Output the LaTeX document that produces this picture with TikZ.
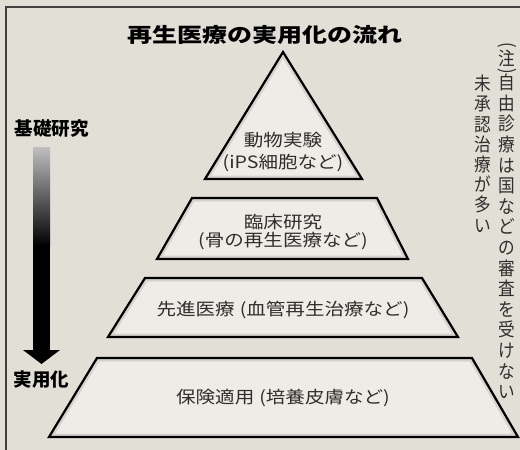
\documentclass[tikz,border=0pt]{standalone}
\usepackage{fontspec}
\setmainfont{Noto Sans CJK JP}
\newfontfamily\jplbl[FakeStretch=1.15]{Noto Sans CJK JP}
\newfontfamily\jptitle[FakeStretch=1.25]{Noto Sans CJK JP}
\newfontfamily\jpvert[FakeStretch=0.9]{Noto Sans CJK JP}
\definecolor{paper}{RGB}{226,223,215}
\definecolor{shapefill}{RGB}{238,236,230}
\definecolor{ink}{RGB}{48,46,44}
\tikzset{
  pyr/.style={draw=black, line width=2.2pt, line join=miter},
  lbl/.style={font=\jplbl\fontsize{17}{20}\selectfont, text=ink, inner sep=0pt},
  titlelbl/.style={font=\jptitle\bfseries\fontsize{20}{24}\selectfont, text=black, inner sep=0pt},
  sidelbl/.style={font=\bfseries\fontsize{18.5}{22}\selectfont, text=black, inner sep=0pt},
  vertlbl/.style={font=\jpvert\fontsize{18.5}{20.6}\selectfont, text=ink, inner sep=0pt, align=center},
  vertlbltwo/.style={vertlbl, font=\jpvert\fontsize{18.5}{20.2}\selectfont},
}
\newcommand\pyrshape[1]{%
  \fill[shapefill] #1;
  \begin{scope}
    \clip #1;
    \draw[line width=7pt, black, opacity=0.10] #1;
  \end{scope}
  \draw[pyr] #1;
}
\begin{document}
\begin{tikzpicture}[x=1pt, y=-1pt]
  \useasboundingbox (0,0) rectangle (520,450);
  \fill[paper] (0,0) rectangle (520,450);
  % frame
  \draw[line width=1.4pt, black!75] (520,7) -- (6,7) -- (6,450);

  % title
  \node[titlelbl] (title) at (265,35) {再生医療の実用化の流れ};

  % pyramid
  \pyrshape{(283,52) -- (362,179) -- (205,179) -- cycle}
  \pyrshape{(192,198) -- (377,198) -- (408,259) -- (157,259) -- cycle}
  \pyrshape{(145,278) -- (422,278) -- (458,337) -- (108,337) -- cycle}
  \pyrshape{(97,358) -- (472,358) -- (518,437) -- (49,437) -- cycle}

  \node[lbl] (t1a) at (283,140.5) {動物実験};
  \node[lbl] (t1b) at (283,163) {(iPS細胞など)};
  \node[lbl] (t2a) at (283,222) {臨床研究};
  \node[lbl] (t2b) at (283,241) {(骨の再生医療など)};
  \node[lbl] (t3) at (283,310) {先進医療\hspace{5pt}(血管再生治療など)};
  \node[lbl] (t4) at (283,398) {保険適用\hspace{5pt}(培養皮膚など)};

  % side labels and arrow
  \node[sidelbl] (basic) at (52,129) {基礎研究};
  \node[sidelbl] (prac) at (41.5,380) {実用化};
  \coordinate (shafttop) at (41.5,147);
  \coordinate (tip) at (41.5,364);
  \shade[top color=black!25, bottom color=black] (33,147) rectangle (50,246);
  \fill[black] (33,245) rectangle (50,351);
  \fill[black] (23,350) -- (60,350) -- (tip) -- cycle;

  % vertical note
  \node[vertlbl, rotate=-90] (po) at (507,45) {(};
  \node[vertlbl] (nz) at (507,58) {注};
  \node[vertlbl, rotate=-90] (pc) at (507,71) {)};
  \node[vertlbl, anchor=north] (n1) at (507,74) {自\\由\\診\\療\\は\\国\\な\\ど\\の\\審\\査\\を\\受\\け\\な\\い};
  \node[vertlbltwo, anchor=north] (n2) at (483,75) {未\\承\\認\\治\\療\\が\\多\\い};
\end{tikzpicture}
\end{document}
